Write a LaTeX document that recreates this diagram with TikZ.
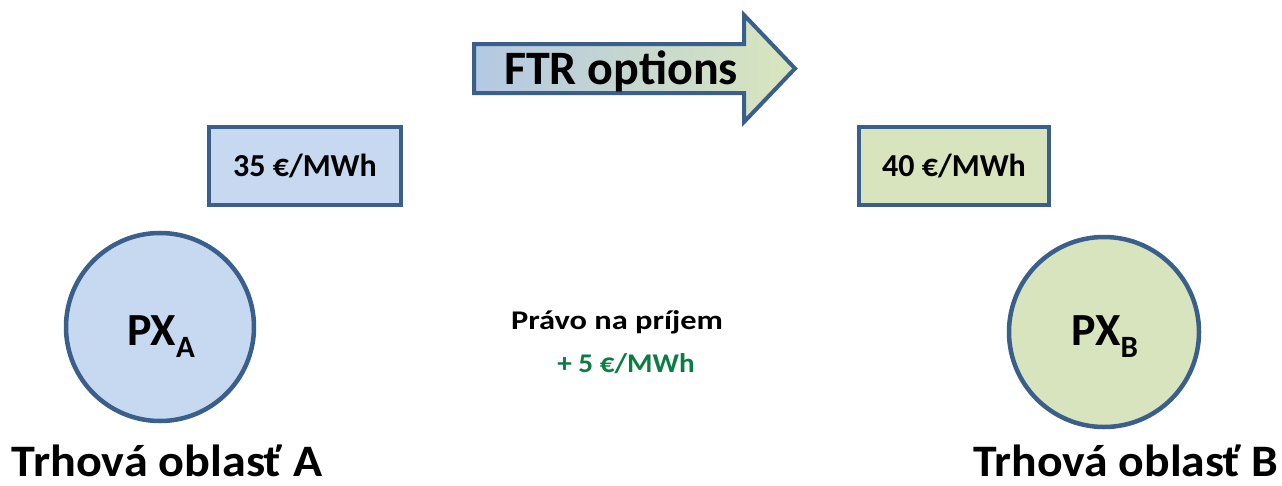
\documentclass[tikz,border=0pt]{standalone}
\usepackage{fontspec}
\setmainfont{Carlito}
\definecolor{edgeblue}{HTML}{3A5F8B}
\definecolor{fillblue}{HTML}{C6D9F1}
\definecolor{fillgreen}{HTML}{D7E4BD}
\definecolor{arrowleft}{HTML}{B3C8E3}
\definecolor{arrowright}{HTML}{D9E6BD}
\definecolor{textgreen}{HTML}{0A7D45}
\newcommand{\fs}[1]{\fontsize{#1}{#1}\selectfont}
\tikzset{
  pricebox/.style={draw=edgeblue, line width=4pt, rectangle, minimum width=192pt, minimum height=78pt, inner sep=0pt, font=\bfseries\fs{32}},
  market/.style={draw=edgeblue, line width=4.5pt, circle, inner sep=0pt},
  pxlabel/.style={anchor=base, inner sep=0pt, font=\bfseries\fs{46}},
  arealabel/.style={anchor=base, inner sep=0pt, text depth=0pt, font=\bfseries\fs{45}},
  note/.style={anchor=base, inner sep=0pt, font=\bfseries\fs{27}}
}
\begin{document}
\begin{tikzpicture}[x=1pt,y=-1pt]
\useasboundingbox (0,0) rectangle (1282,485);
% FTR arrow
\path[draw=edgeblue, line width=4pt, left color=arrowleft, right color=arrowright]
  (474,44) -- (744,44) -- (744,15) -- (795,68.5) -- (744,122) -- (744,93) -- (474,93) -- cycle;
\node[anchor=base, inner sep=0pt, font=\bfseries\fs{48}] (ftr) at (621,84) {FTR options};
% price boxes
\node[pricebox, fill=fillblue] (pa) at (305,166) {35 €/MWh};
\node[pricebox, fill=fillgreen, minimum width=190pt] (pb) at (954,166) {40 €/MWh};
% markets
\node[market, fill=fillblue, minimum size=188pt] (mA) at (160,327) {};
\node[market, fill=fillgreen, minimum size=190pt] (mB) at (1104,332) {};
\node[pxlabel] (pxA) at (161,345) {PX\raisebox{-12pt}{\fs{31}A}};
\node[pxlabel] (pxB) at (1105,345) {PX\raisebox{-12pt}{\fs{31}B}};
% area labels
\node[arealabel] (lA) at (167,476) {\scalebox{1.07}[1]{Trhová oblasť A}};
\node[arealabel] (lB) at (1126,476) {\scalebox{1.06}[1]{Trhová oblasť B}};
% middle note
\node[note] (right) at (617,329) {\scalebox{1.2}[1]{Právo na príjem}};
\node[note, text=textgreen] (gain) at (626,372) {\scalebox{1.08}[1]{+ 5 €/MWh}};
\end{tikzpicture}
\end{document}
